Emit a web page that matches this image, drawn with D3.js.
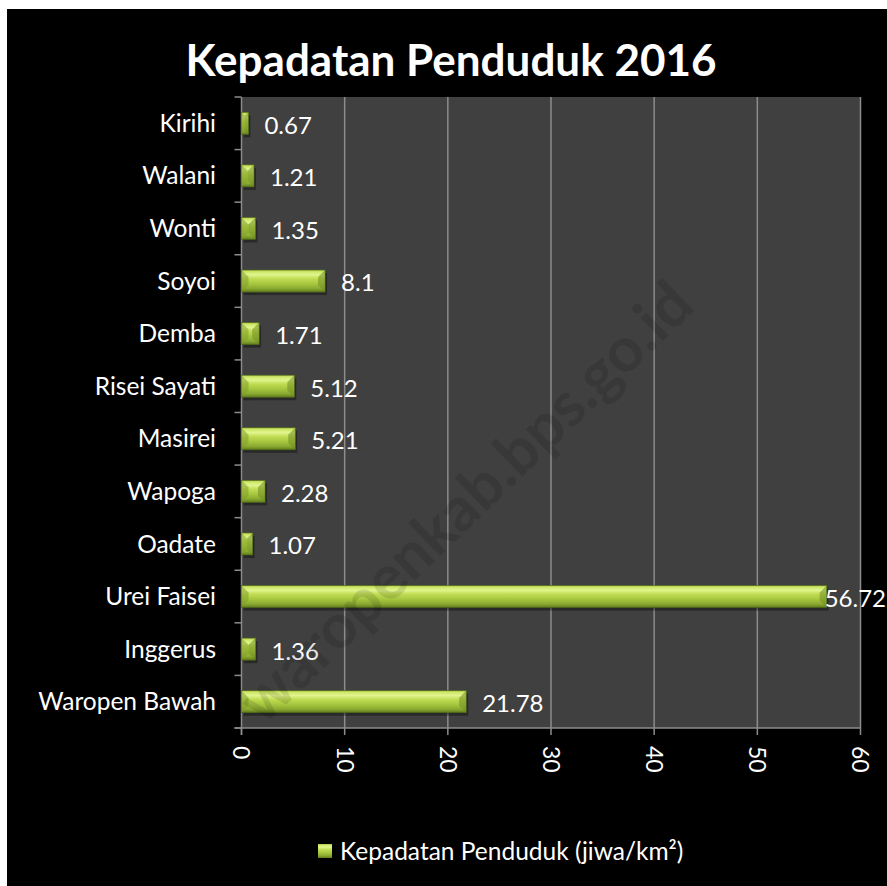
<!DOCTYPE html>
<html>
<head>
<meta charset="utf-8">
<script src="https://cdn.jsdelivr.net/npm/d3@7"></script>
<style>
  body { margin: 0; background: white; }
  text { font-family: Lato, "Open Sans", sans-serif; }
</style>
</head>
<body>
<svg width="887" height="886"></svg>
<script>
var width = 887, height = 886;

// data, top to bottom as in the picture
var districts = ['Kirihi', 'Walani', 'Wonti', 'Soyoi', 'Demba', 'Risei Sayati',
                 'Masirei', 'Wapoga', 'Oadate', 'Urei Faisei', 'Inggerus', 'Waropen Bawah'];
var density = [0.67, 1.21, 1.35, 8.1, 1.71, 5.12, 5.21, 2.28, 1.07, 56.72, 1.36, 21.78];
var xTicks = [0, 10, 20, 30, 40, 50, 60];
var titleText = 'Kepadatan Penduduk 2016';
var legendText = 'Kepadatan Penduduk (jiwa/km\u00B2)';
var watermark = 'waropenkab.bps.go.id';

var rows = districts.map(function(d, i) { return {name: d, value: density[i]}; });

var svg = d3.select('svg');

svg.append('rect')
  .attr('width', width).attr('height', height)
  .attr('fill', 'white');
svg.append('rect')
  .attr('x', 7).attr('y', 9)
  .attr('width', width - 7).attr('height', height - 9)
  .attr('fill', 'black');

var plotL = 241.5, plotR = 860.5, plotT = 97, plotB = 728;

var x = d3.scaleLinear().domain([0, 60]).range([plotL, plotR]);
var y = d3.scaleBand().domain(districts).range([plotT, plotB])
  .paddingInner(0.58).paddingOuter(0.29);

// gradients
var defs = svg.append('defs');
var grad = defs.append('linearGradient').attr('id', 'barGrad')
  .attr('x1', 0).attr('y1', 0).attr('x2', 0).attr('y2', 1);
[[0, '#a9c544'], [0.08, '#cfe86a'], [0.22, '#e0f58e'], [0.4, '#c0dc52'],
 [0.65, '#a4c43e'], [0.85, '#88a730'], [1, '#5f7a1c']].forEach(function(s) {
  grad.append('stop').attr('offset', s[0]).attr('stop-color', s[1]);
});
defs.append('clipPath').attr('id', 'plotClip')
  .append('rect').attr('x', plotL).attr('y', plotT)
  .attr('width', plotR - plotL).attr('height', plotB - plotT);

// plot area
svg.append('rect')
  .attr('x', plotL).attr('y', plotT)
  .attr('width', plotR - plotL).attr('height', plotB - plotT)
  .attr('fill', '#404040');

svg.append('g').selectAll('line')
  .data(xTicks.slice(1))
  .enter().append('line')
  .attr('x1', function(d) { return x(d); }).attr('x2', function(d) { return x(d); })
  .attr('y1', plotT).attr('y2', plotB)
  .attr('stroke', '#8c8c8c').attr('stroke-width', 1.5);

// axes
var axisColor = '#8c8c8c';
svg.append('line')
  .attr('x1', plotL).attr('x2', plotL).attr('y1', plotT).attr('y2', plotB + 7)
  .attr('stroke', axisColor).attr('stroke-width', 1.5);
svg.append('line')
  .attr('x1', plotL - 7).attr('x2', plotR).attr('y1', plotB).attr('y2', plotB)
  .attr('stroke', axisColor).attr('stroke-width', 1.5);

var bounds = d3.range(districts.length + 1).map(function(i) { return plotT + i * y.step(); });
svg.append('g').selectAll('line')
  .data(bounds)
  .enter().append('line')
  .attr('x1', plotL - 7).attr('x2', plotL)
  .attr('y1', function(d) { return d; }).attr('y2', function(d) { return d; })
  .attr('stroke', axisColor).attr('stroke-width', 1.5);

svg.append('g').selectAll('line')
  .data(xTicks)
  .enter().append('line')
  .attr('x1', function(d) { return x(d); }).attr('x2', function(d) { return x(d); })
  .attr('y1', plotB).attr('y2', plotB + 7)
  .attr('stroke', axisColor).attr('stroke-width', 1.5);

svg.append('g').selectAll('text')
  .data(xTicks)
  .enter().append('text')
  .attr('transform', function(d) { return 'translate(' + x(d) + ',' + (plotB + 18) + ')rotate(90)'; })
  .attr('dy', '0.35em')
  .attr('fill', 'white')
  .style('font-size', '23px')
  .text(function(d) { return d; });

svg.append('g').selectAll('text')
  .data(districts)
  .enter().append('text')
  .attr('x', 216)
  .attr('y', function(d) { return y(d) + y.bandwidth() / 2; })
  .attr('dy', '0.35em')
  .attr('text-anchor', 'end')
  .attr('fill', 'white')
  .style('font-size', '24.5px')
  .text(function(d) { return d; });

// bars with bevelled ends
var bars = svg.append('g').selectAll('.bar')
  .data(rows)
  .enter().append('g')
  .attr('class', 'bar');

bars.append('rect')
  .attr('x', x(0) + 2)
  .attr('y', function(d) { return y(d.name) + 3; })
  .attr('width', function(d) { return x(d.value) - x(0); })
  .attr('height', y.bandwidth())
  .attr('fill', 'black').attr('opacity', 0.35);

bars.append('rect')
  .attr('x', x(0))
  .attr('y', function(d) { return y(d.name); })
  .attr('width', function(d) { return x(d.value) - x(0); })
  .attr('height', y.bandwidth())
  .attr('fill', 'url(#barGrad)')
  .attr('stroke', '#4f6818').attr('stroke-width', 0.6);

function facet(d, side) {
  var x0 = x(0), x1 = x(d.value), y0 = y(d.name), h = y.bandwidth(), y1 = y0 + h;
  var b = Math.min(7, (x1 - x0) / 2);
  if (side == 'left') {
    return [[x0, y0], [x0 + b, y0 + b], [x0 + b, y1 - b], [x0, y1]];
  }
  return [[x1, y0], [x1 - b, y0 + b], [x1 - b, y1 - b], [x1, y1]];
}
bars.append('polygon')
  .attr('points', function(d) { return facet(d, 'left').join(' '); })
  .attr('fill', '#7f9f2a').attr('opacity', 0.55);
bars.append('polygon')
  .attr('points', function(d) { return facet(d, 'right').join(' '); })
  .attr('fill', '#6f8d22').attr('opacity', 0.55);

// value labels
bars.append('text')
  .attr('x', function(d) { return x(d.value) + 16; })
  .attr('y', function(d) { return y(d.name) + y.bandwidth() / 2 + 2; })
  .attr('dy', '0.35em')
  .attr('fill', 'white')
  .style('font-size', '24px')
  .text(function(d) { return d.value; })
  .each(function(d) {
    // push the label back if it runs off the picture
    var w = this.getComputedTextLength();
    var px = x(d.value) + 16;
    if (px + w > width - 1) d3.select(this).attr('x', width - 1 - w);
  });

// watermark
svg.append('g').attr('clip-path', 'url(#plotClip)')
  .append('text')
  .attr('transform', 'translate(465,502)rotate(-44)')
  .attr('text-anchor', 'middle')
  .attr('dy', '0.35em')
  .attr('fill', 'black').attr('opacity', 0.11)
  .style('font-size', '62px').style('font-weight', 'bold')
  .text(watermark);

// title
svg.append('text')
  .attr('x', 451).attr('y', 76)
  .attr('text-anchor', 'middle')
  .attr('fill', 'white')
  .style('font-size', '44px').style('font-weight', 'bold')
  .text(titleText);

// legend
svg.append('rect')
  .attr('x', 318).attr('y', 844)
  .attr('width', 14).attr('height', 14)
  .attr('fill', 'url(#barGrad)');
svg.append('text')
  .attr('x', 340).attr('y', 851)
  .attr('dy', '0.35em')
  .attr('fill', 'white')
  .style('font-size', '24.5px')
  .text(legendText);
</script>
</body>
</html>
